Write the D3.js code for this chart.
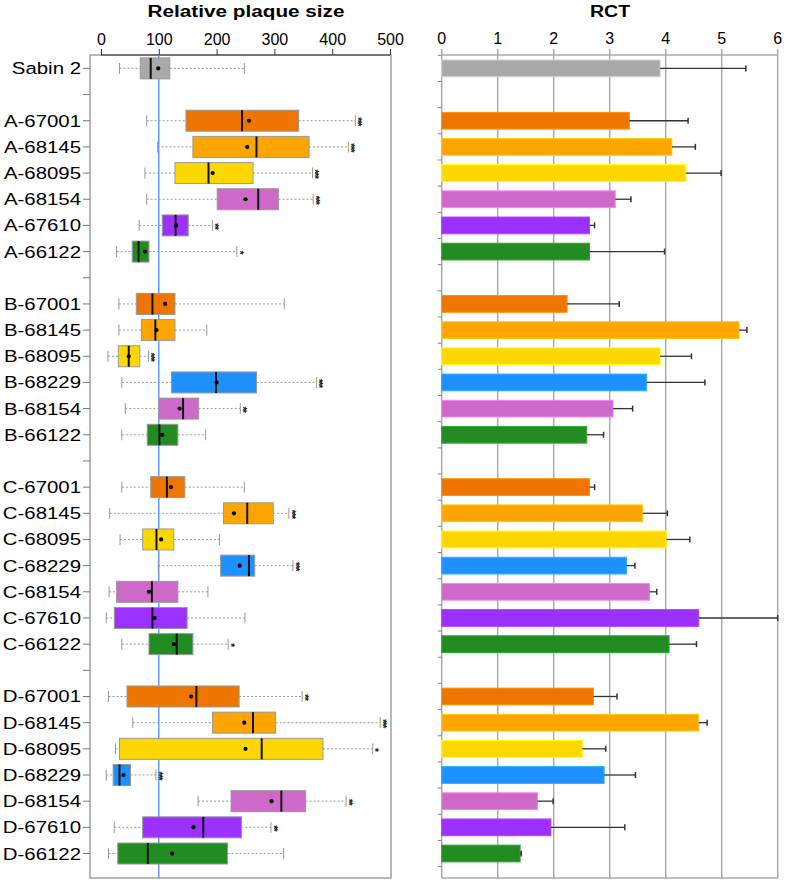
<!DOCTYPE html>
<html><head><meta charset="utf-8">
<script src="https://cdn.jsdelivr.net/npm/d3@7"></script>
<style>body{margin:0;background:#fff;} svg{display:block;font-family:"Liberation Sans",Arial,sans-serif;}</style>
</head><body><svg id="c" width="787" height="882"></svg>
<script>
// ---- data ----
const categories = ["Sabin 2","",
 "A-67001","A-68145","A-68095","A-68154","A-67610","A-66122","",
 "B-67001","B-68145","B-68095","B-68229","B-68154","B-66122","",
 "C-67001","C-68145","C-68095","C-68229","C-68154","C-67610","C-66122","",
 "D-67001","D-68145","D-68095","D-68229","D-68154","D-67610","D-66122"];
const whiskerLow = [32,null, 79,98,76,79,66,27,null, 31,31,12,36,42,36,null, 36,15,33,99,14,9,36,null, 13,55,25,9,168,23,13];
const q1 =         [68,null, 147,159,128,201,106,54,null, 61,70,30,122,100,80,null, 86,212,72,207,27,23,83,null, 45,193,32,21,225,72,29];
const median =     [86,null, 244,269,186,272,129,65,null, 89,94,48,199,142,101,null, 114,253,96,256,88,89,131,null, 165,263,278,32,312,177,81];
const mean =       [99,null, 256,253,193,250,130,76,null, 111,96,48,200,136,106,null, 121,230,104,240,83,93,126,null, 156,248,250,39,295,160,123];
const q3 =         [119,null, 342,360,263,307,151,83,null, 128,128,67,269,169,133,null, 145,298,126,266,133,149,159,null, 239,302,384,51,354,243,219];
const whiskerHigh= [248,null, 440,428,366,367,193,235,null, 317,183,82,373,241,181,null, 248,325,205,332,185,249,220,null, 348,483,470,95,424,294,316];
const stars =      ["",null, "***","***","***","***","**","*",null, "","","***","***","**","",null, "","***","","***","","","*",null, "**","***","*","***","**","**",""];
const rct =        [3.90,null, 3.35,4.11,4.36,3.10,2.64,2.64,null, 2.24,5.31,3.90,3.66,3.06,2.59,null, 2.64,3.59,4.01,3.30,3.71,4.59,4.06,null, 2.71,4.59,2.51,2.90,1.71,1.95,1.40];
const rctUpper =   [5.43,null, 4.40,4.53,4.99,3.38,2.73,3.98,null, 3.17,5.45,4.46,4.70,3.41,2.89,null, 2.73,4.03,4.43,3.45,3.84,6.00,4.55,null, 3.13,4.74,2.93,3.46,1.99,3.27,1.42];
const plaqueTicks = [0,100,200,300,400,500];
const rctTicks = [0,1,2,3,4,5,6];
const referenceLine = 100;
const strainColors = {"Sabin 2":"#a9a9a9","67001":"#ee7600","68145":"#ffa500","68095":"#ffd700",
  "68154":"#cd69c9","67610":"#9b30ff","66122":"#228b22","68229":"#1e90ff"};

// ---- layout ----
const svg = d3.select("#c");
const yTop = 55, yBottom = 878;
const y = d3.scaleBand(d3.range(categories.length), [55.3, 866.6]);
const yc = i => y(i) + y.bandwidth()/2;
const xL = d3.scaleLinear([0,500],[101,390]);
const xR = d3.scaleLinear([0,6],[441.7,777.7]);
const color = c => c === "Sabin 2" ? strainColors["Sabin 2"] : strainColors[c.split("-")[1]];
const rows = d3.range(categories.length).filter(i => categories[i] !== "");

// titles
svg.append("text").attr("transform","translate(246,17) scale(1.22,1)").attr("text-anchor","middle")
  .attr("font-weight","bold").attr("font-size",17).text("Relative plaque size");
svg.append("text").attr("transform","translate(610,17) scale(1.15,1)").attr("text-anchor","middle")
  .attr("font-weight","bold").attr("font-size",17).text("RCT");

// ---- left panel ----
const L = svg.append("g");
L.append("rect").attr("x",90).attr("y",yTop).attr("width",301).attr("height",yBottom-yTop)
  .attr("fill","none").attr("stroke","#a0a0a0").attr("stroke-width",1.5);
const axT = L.append("g").attr("transform",`translate(0,${yTop})`)
  .call(d3.axisTop(xL).tickValues(plaqueTicks).tickSize(6).tickPadding(4));
axT.select(".domain").attr("d",`M${xL(0)},0H${xL(500)}`).attr("stroke","#333");
axT.selectAll("text").attr("font-size",16).attr("font-family","Liberation Sans, Arial").attr("fill","#000");
axT.selectAll(".tick line").attr("stroke","#333");
// left category ticks and labels
const axL = L.append("g").attr("transform","translate(90,0)");
categories.forEach((c,i)=>{
  axL.append("line").attr("x1",-7).attr("x2",0).attr("y1",yc(i)).attr("y2",yc(i)).attr("stroke","#777");
  if(c) axL.append("text").attr("transform",`translate(-9,${yc(i)+6}) scale(1.2,1)`)
    .attr("text-anchor","end").attr("font-size",17).text(c);
});
// reference line
L.append("line").attr("x1",xL(referenceLine)).attr("x2",xL(referenceLine)).attr("y1",yTop).attr("y2",yBottom)
  .attr("stroke","#4a8cff").attr("stroke-width",1.3);
const bh = 21, fsStar = 10;
rows.forEach(i=>{
  const cy = yc(i), g = L.append("g");
  g.append("line").attr("x1",xL(whiskerLow[i])).attr("x2",xL(q1[i])).attr("y1",cy).attr("y2",cy)
    .attr("stroke","#999").attr("stroke-dasharray","2,2");
  g.append("line").attr("x1",xL(q3[i])).attr("x2",xL(whiskerHigh[i])).attr("y1",cy).attr("y2",cy)
    .attr("stroke","#999").attr("stroke-dasharray","2,2");
  [whiskerLow[i],whiskerHigh[i]].forEach(v=>g.append("line").attr("x1",xL(v)).attr("x2",xL(v))
    .attr("y1",cy-5.5).attr("y2",cy+5.5).attr("stroke","#999"));
  g.append("rect").attr("x",xL(q1[i])).attr("y",cy-bh/2).attr("width",xL(q3[i])-xL(q1[i])).attr("height",bh)
    .attr("fill",color(categories[i])).attr("stroke","#999").attr("stroke-width",1);
  g.append("line").attr("x1",xL(median[i])).attr("x2",xL(median[i])).attr("y1",cy-bh/2).attr("y2",cy+bh/2)
    .attr("stroke","#111").attr("stroke-width",2);
  g.append("circle").attr("cx",xL(mean[i])).attr("cy",cy).attr("r",2.1).attr("fill","#000");
  if(stars[i]) g.append("text")
    .attr("transform",`translate(${xL(whiskerHigh[i])+4.5-0.57*fsStar},${cy+0.5}) rotate(90)`)
    .attr("text-anchor","middle").attr("font-size",fsStar).attr("font-weight","bold").attr("letter-spacing",-1.2)
    .attr("fill","#222").text(stars[i]);
});

// ---- right panel ----
const R = svg.append("g");
R.append("g").selectAll("line").data(rctTicks).join("line")
  .attr("x1",d=>xR(d)).attr("x2",d=>xR(d)).attr("y1",yTop-6).attr("y2",yBottom)
  .attr("stroke","#aaa").attr("stroke-width",1.5);
R.append("line").attr("x1",xR(0)).attr("x2",xR(6)).attr("y1",yTop).attr("y2",yTop).attr("stroke","#aaa").attr("stroke-width",1.5);
R.append("line").attr("x1",xR(0)).attr("x2",xR(6)).attr("y1",yBottom).attr("y2",yBottom).attr("stroke","#aaa").attr("stroke-width",1.5);
R.append("g").selectAll("text").data(rctTicks).join("text")
  .attr("x",d=>xR(d)).attr("y",44).attr("text-anchor","middle").attr("font-size",16).text(d=>d);
d3.range(categories.length+1).forEach(k=>{
  const yy = 55.3 + k*y.step();
  R.append("line").attr("x1",xR(0)-4).attr("x2",xR(0)).attr("y1",yy).attr("y2",yy).attr("stroke","#888");
});
const barH = y.bandwidth()*0.64;
rows.forEach(i=>{
  const cy = yc(i);
  const c = d3.color(color(categories[i]));
  R.append("rect").attr("x",xR(0)).attr("y",cy-barH/2).attr("width",xR(rct[i])-xR(0)).attr("height",barH)
    .attr("fill",c).attr("stroke",c.brighter(0.6)).attr("stroke-width",1);
  R.append("line").attr("x1",xR(rct[i])).attr("x2",xR(rctUpper[i])).attr("y1",cy).attr("y2",cy)
    .attr("stroke","#333").attr("stroke-width",1.3);
  R.append("line").attr("x1",xR(rctUpper[i])).attr("x2",xR(rctUpper[i])).attr("y1",cy-3).attr("y2",cy+3)
    .attr("stroke","#333").attr("stroke-width",1.5);
});
</script></body></html>
